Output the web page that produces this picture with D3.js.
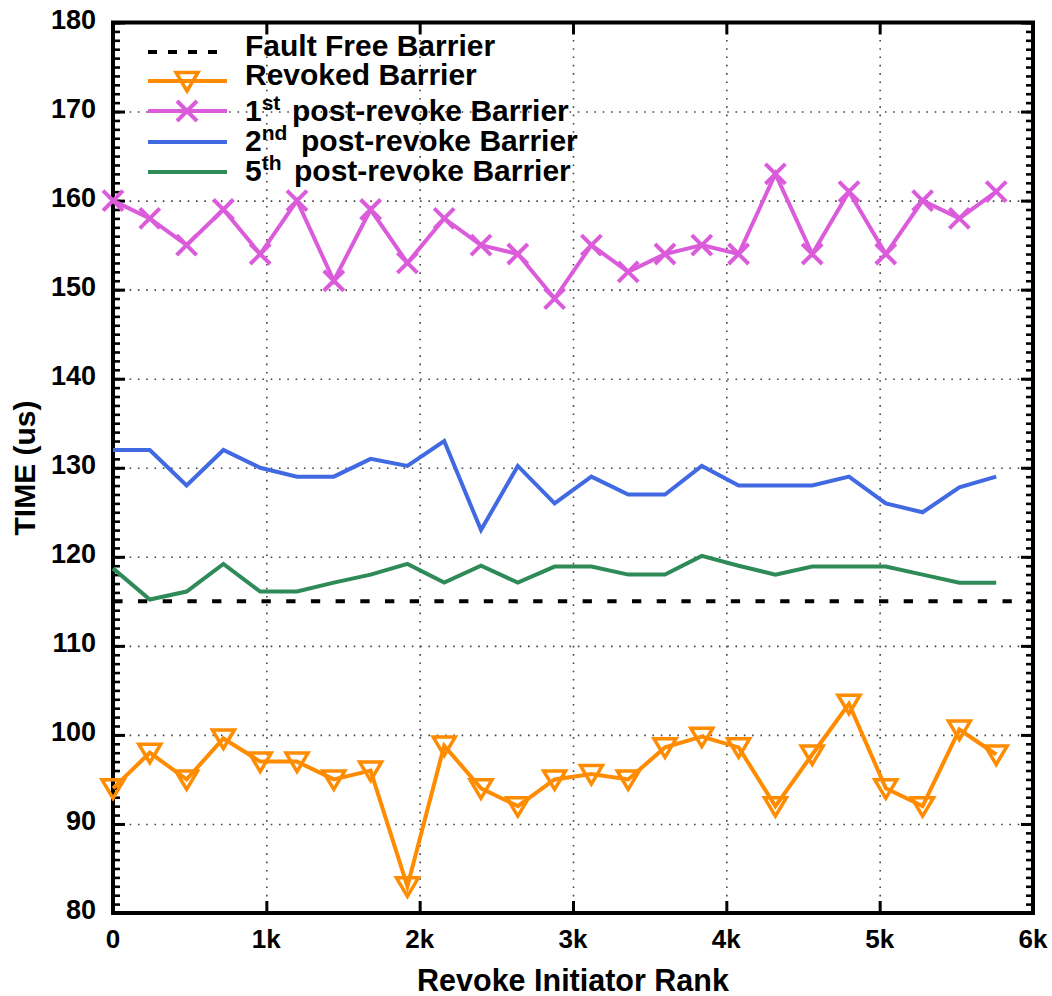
<!DOCTYPE html>
<html>
<head>
<meta charset="utf-8">
<script src="https://cdn.jsdelivr.net/npm/d3@7"></script>
<style>
  body { margin: 0; background: #fff; }
  text { font-family: "Liberation Sans", Arial, Helvetica, sans-serif; font-weight: bold; fill: #000; }
</style>
</head>
<body>
<div id="chart"></div>
<script>
// data
var ranks = [0, 240, 480, 720, 960, 1200, 1440, 1680, 1920, 2160, 2400, 2640, 2880,
             3120, 3360, 3600, 3840, 4080, 4320, 4560, 4800, 5040, 5280, 5520, 5760];
var faultFree = 115;
var revoked = [94, 98, 95, 99.6, 97, 97, 95, 96, 83, 98.8, 94, 92, 95,
               95.6, 95, 98.6, 99.8, 98.6, 92, 97.8, 103.5, 94, 92, 100.6, 97.8];
var post1 = [160, 158, 155, 159, 154, 160, 151, 159, 153, 158, 155, 154, 149,
             155, 152, 154, 155, 154, 163, 154, 161, 154, 160, 158, 161];
var post2 = [132, 132, 128, 132, 130, 129, 129, 131, 130.2, 133, 123, 130.2, 126,
             129, 127, 127, 130.2, 128, 128, 128, 129, 126, 125, 127.8, 129];
var post5 = [118.7, 115.2, 116.1, 119.2, 116.1, 116.1, 117.1, 118, 119.2, 117.1, 119, 117.1, 118.9,
             118.9, 118, 118, 120.1, 119, 118, 118.9, 118.9, 118.9, 118, 117.1, 117.1];
var xTicks = [0, 1000, 2000, 3000, 4000, 5000, 6000];
var xTickLabels = ["0", "1k", "2k", "3k", "4k", "5k", "6k"];
var yTicks = [80, 90, 100, 110, 120, 130, 140, 150, 160, 170, 180];

// dimensions
var W = 1052, H = 996;
var x0 = 113, x1 = 1033, y0 = 913, y1 = 22.5;

var svg = d3.select("#chart").append("svg")
    .attr("width", W).attr("height", H);

var x = d3.scaleLinear().domain([0, 6000]).range([x0, x1]);
var y = d3.scaleLinear().domain([80, 180]).range([y0, y1]);

// dotted grid
var grid = svg.append("g").attr("class", "grid");
grid.append("g")
    .attr("transform", "translate(0," + y0 + ")")
    .call(d3.axisBottom(x).tickValues(xTicks.slice(1, -1)).tickSize(-(y0 - y1)).tickFormat(""));
grid.append("g")
    .attr("transform", "translate(" + x0 + ",0)")
    .call(d3.axisLeft(y).tickValues(yTicks.slice(1, -1)).tickSize(-(x1 - x0)).tickFormat(""));
grid.selectAll(".domain").remove();
grid.selectAll("line")
    .attr("stroke", "#444")
    .attr("stroke-width", 1.6)
    .attr("stroke-dasharray", "1.6,6.7");

// frame and ticks
var axes = svg.append("g").attr("class", "axes");
function tickStyle(g, w) {
    g.select(".domain").remove();
    g.selectAll("line").attr("stroke", "#000").attr("stroke-width", w);
}
// minor y ticks (left and right)
axes.append("g").attr("transform", "translate(" + x0 + ",0)")
    .call(d3.axisLeft(y).tickValues(d3.range(80, 181)).tickSize(-7).tickFormat(""))
    .call(tickStyle, 2.6);
axes.append("g").attr("transform", "translate(" + x1 + ",0)")
    .call(d3.axisRight(y).tickValues(d3.range(80, 181)).tickSize(-7).tickFormat(""))
    .call(tickStyle, 2.6);
// major ticks
axes.append("g").attr("transform", "translate(" + x0 + ",0)")
    .call(d3.axisLeft(y).tickValues(yTicks).tickSize(-12).tickFormat(""))
    .call(tickStyle, 3);
axes.append("g").attr("transform", "translate(" + x1 + ",0)")
    .call(d3.axisRight(y).tickValues(yTicks).tickSize(-12).tickFormat(""))
    .call(tickStyle, 3);
axes.append("g").attr("transform", "translate(0," + y0 + ")")
    .call(d3.axisBottom(x).tickValues(xTicks).tickSize(-12).tickFormat(""))
    .call(tickStyle, 3);
axes.append("g").attr("transform", "translate(0," + y1 + ")")
    .call(d3.axisTop(x).tickValues(xTicks).tickSize(-12).tickFormat(""))
    .call(tickStyle, 3);
axes.append("rect")
    .attr("x", x0).attr("y", y1)
    .attr("width", x1 - x0).attr("height", y0 - y1)
    .attr("fill", "none").attr("stroke", "#000").attr("stroke-width", 4);

// tick labels
svg.append("g").selectAll("text")
    .data(yTicks).enter().append("text")
    .attr("x", 96)
    .attr("y", function(d) { return y(d) + 6; })
    .attr("text-anchor", "end")
    .style("font-size", "27px")
    .text(function(d) { return d; });
svg.append("g").selectAll("text")
    .data(xTicks).enter().append("text")
    .attr("x", function(d) { return x(d); })
    .attr("y", 948)
    .attr("text-anchor", "middle")
    .style("font-size", "26px")
    .text(function(d, i) { return xTickLabels[i]; });

// axis titles
svg.append("text")
    .attr("x", (x0 + x1) / 2).attr("y", 991)
    .attr("text-anchor", "middle")
    .style("font-size", "30.5px")
    .text("Revoke Initiator Rank");
svg.append("text")
    .attr("transform", "translate(35,468) rotate(-90)")
    .attr("text-anchor", "middle")
    .style("font-size", "30px")
    .text("TIME (us)");

// series
var series = [
    {name: "revoked", values: revoked, color: "#ff8c00", marker: "tri"},
    {name: "post1", values: post1, color: "#db5cdb", marker: "cross"},
    {name: "post2", values: post2, color: "#4169e1", marker: null},
    {name: "post5", values: post5, color: "#2e8b57", marker: null}
];

var triPath = "M-11,-8.5 L11,-8.5 L0,10 Z";
var crossPath = "M-10,-10 L10,10 M-10,10 L10,-10";

var line = d3.line()
    .x(function(d, i) { return x(ranks[i]); })
    .y(function(d) { return y(d); });

var plot = svg.append("g").attr("class", "plot");

// fault free reference
plot.append("line")
    .attr("x1", x(0)).attr("x2", x(6000))
    .attr("y1", y(faultFree)).attr("y2", y(faultFree))
    .attr("stroke", "#000").attr("stroke-width", 4)
    .attr("stroke-dasharray", "9.3,15.4")
    .attr("stroke-dashoffset", -25);

series.forEach(function(s) {
    plot.append("path")
        .datum(s.values)
        .attr("d", line)
        .attr("fill", "none")
        .attr("stroke", s.color)
        .attr("stroke-width", 4)
        .attr("stroke-linejoin", "miter");
    if (s.marker) {
        plot.append("g").selectAll("path")
            .data(s.values).enter().append("path")
            .attr("transform", function(d, i) { return "translate(" + x(ranks[i]) + "," + y(d) + ")"; })
            .attr("d", s.marker == "tri" ? triPath : crossPath)
            .attr("fill", "none")
            .attr("stroke", s.color)
            .attr("stroke-width", s.marker == "tri" ? 3.5 : 4);
    }
});

// legend
var legend = svg.append("g").attr("class", "legend");
var legY = [52, 81, 111, 142, 172];
var legBase = [56, 85, 121, 151, 181];
legend.append("line")
    .attr("x1", 148).attr("x2", 227).attr("y1", legY[0]).attr("y2", legY[0])
    .attr("stroke", "#000").attr("stroke-width", 4)
    .attr("stroke-dasharray", "9,11");
series.forEach(function(s, i) {
    legend.append("line")
        .attr("x1", 148).attr("x2", 227).attr("y1", legY[i + 1]).attr("y2", legY[i + 1])
        .attr("stroke", s.color).attr("stroke-width", 4);
    if (s.marker) {
        legend.append("path")
            .attr("transform", "translate(187," + legY[i + 1] + ")")
            .attr("d", s.marker == "tri" ? triPath : crossPath)
            .attr("fill", "none").attr("stroke", s.color)
            .attr("stroke-width", s.marker == "tri" ? 3.5 : 4);
    }
});

var labels = [
    {main: "Fault Free Barrier"},
    {main: "Revoked Barrier"},
    {pre: "1", sup: "st", rest: "post-revoke Barrier", restX: 292},
    {pre: "2", sup: "nd", rest: "post-revoke Barrier", restX: 301},
    {pre: "5", sup: "th", rest: "post-revoke Barrier", restX: 294}
];
labels.forEach(function(l, i) {
    var t = legend.append("text")
        .attr("x", 245).attr("y", legBase[i])
        .style("font-size", "30px");
    if (l.main) {
        t.text(l.main);
    } else {
        t.append("tspan").text(l.pre);
        t.append("tspan").attr("dy", -11).style("font-size", "21px").text(l.sup);
        t.append("tspan").attr("x", l.restX).attr("dy", 11).text(l.rest);
    }
});
</script>
</body>
</html>
